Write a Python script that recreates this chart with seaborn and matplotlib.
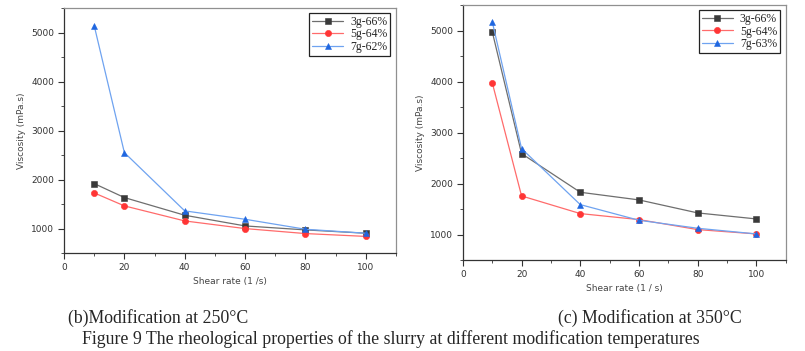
import pandas as pd
import seaborn as sns
import matplotlib.pyplot as plt
from matplotlib.ticker import MultipleLocator

# Shear rate values (1/s)
shear = [10, 20, 40, 60, 80, 100]

# (b) modification at 250 C
b_3g = [1918, 1633, 1272, 1054, 973, 905]
b_5g = [1728, 1463, 1156, 1000, 898, 840]
b_7g = [5143, 2551, 1361, 1190, 986, 905]

# (c) modification at 350 C
c_3g = [4980, 2588, 1830, 1680, 1425, 1307]
c_5g = [3980, 1758, 1412, 1294, 1098, 1013]
c_7g = [5176, 2686, 1588, 1281, 1124, 1013]

labels_b = ['3g-66%', '5g-64%', '7g-62%']
labels_c = ['3g-66%', '5g-64%', '7g-63%']

sns.set_style('white')
plt.rcParams['font.family'] = ['DejaVu Sans']

line_cols = ['#6e6e6e', '#ff6b6b', '#6fa3f0']
mark_cols = ['#3a3a3a', '#ff3535', '#1f66e0']
markers = ['s', 'o', '^']

fig = plt.figure(figsize=(8.05, 3.51), dpi=100)
ax1 = fig.add_axes([0.0795, 0.279, 0.4124, 0.698])
ax2 = fig.add_axes([0.575, 0.259, 0.401, 0.7265])


def draw(ax, series, labels, xlab):
    for vals, lab, lc, mc, mk in zip(series, labels, line_cols, mark_cols, markers):
        df = pd.DataFrame({'x': shear, 'y': vals})
        sns.lineplot(data=df, x='x', y='y', ax=ax, color=lc, lw=0.9,
                     marker=mk, markersize=4.5, markerfacecolor=mc,
                     markeredgecolor=mc, markeredgewidth=0.4, label=lab)
    ax.set_xlim(0, 110)
    ax.set_ylim(500, 5500)
    ax.xaxis.set_major_locator(MultipleLocator(20))
    ax.xaxis.set_minor_locator(MultipleLocator(10))
    ax.yaxis.set_major_locator(MultipleLocator(1000))
    ax.yaxis.set_minor_locator(MultipleLocator(500))
    ax.tick_params(which='major', direction='out', length=4, width=0.8,
                   labelsize=6.5, colors='#333333', left=True, bottom=True, pad=3)
    ax.tick_params(which='minor', direction='out', length=2, width=0.6,
                   left=True, bottom=True, colors='#333333')
    for s in ['left', 'bottom']:
        ax.spines[s].set_color('#333333')
        ax.spines[s].set_linewidth(0.9)
    for s in ['top', 'right']:
        ax.spines[s].set_color('#909090')
        ax.spines[s].set_linewidth(0.9)
    ax.set_xlabel(xlab, fontsize=6.5, color='#444444', labelpad=4)
    ax.set_ylabel('Viscosity (mPa.s)', fontsize=6.5, color='#444444', labelpad=4)
    leg = ax.legend(loc='upper right', bbox_to_anchor=(0.99, 0.99), borderaxespad=0.2,
                    fancybox=False, framealpha=1, edgecolor='#222222',
                    prop={'family': 'Liberation Serif', 'size': 8.5},
                    handlelength=2.6, handletextpad=0.6, labelspacing=0.05,
                    borderpad=0.25)
    leg.get_frame().set_linewidth(0.9)


draw(ax1, [b_3g, b_5g, b_7g], labels_b, 'Shear rate (1 /s)')
draw(ax2, [c_3g, c_5g, c_7g], labels_c, 'Shear rate (1 / s)')

serif = {'family': 'Liberation Serif', 'size': 12.8}
fig.text(0.197, 0.094, '(b)Modification at 250\u00b0C', ha='center', va='center', **serif)
fig.text(0.807, 0.094, '(c) Modification at 350\u00b0C', ha='center', va='center', **serif)
fig.text(0.486, 0.034, 'Figure 9 The rheological properties of the slurry at different modification temperatures',
         ha='center', va='center', **serif)

fig.savefig('out.png', dpi=100)
